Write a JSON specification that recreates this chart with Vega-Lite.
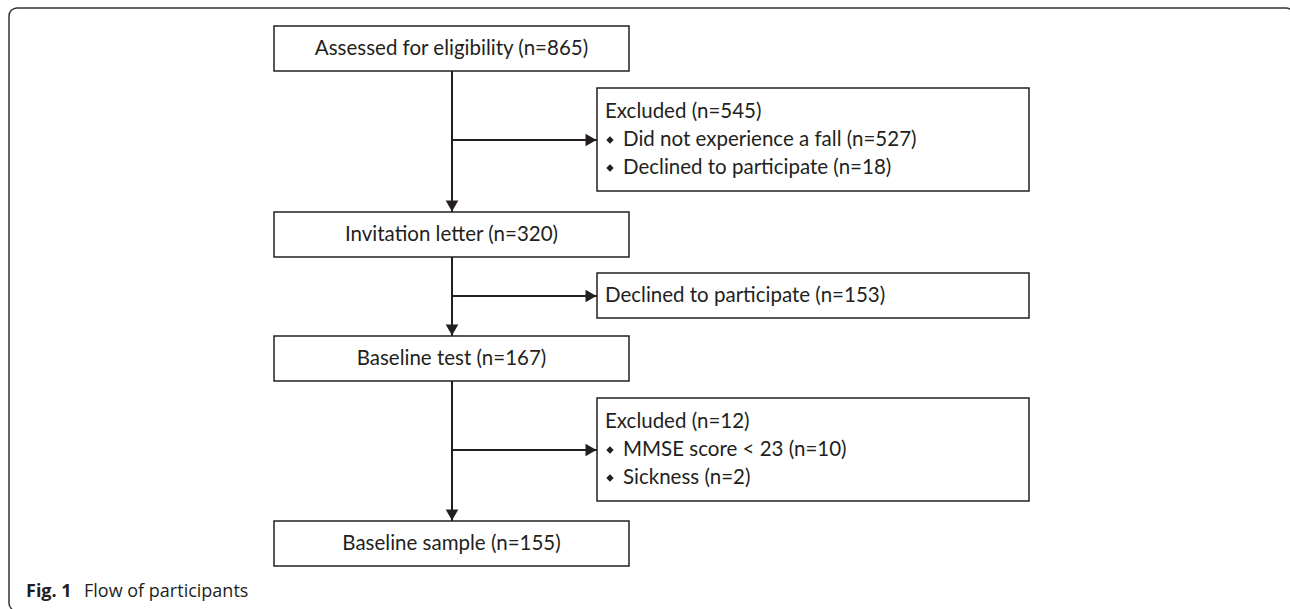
{
  "$schema": "https://vega.github.io/schema/vega-lite/v6.json",
  "width": 1290,
  "height": 609,
  "autosize": {"type": "fit", "contains": "padding"},
  "padding": 0,
  "background": "white",
  "config": {"view": {"stroke": null}},
  "datasets": {
    "frame": [{"x": 9, "x2": 1294, "y": 8, "y2": 611}],
    "boxes": [
      {"name": "assessed", "x": 274, "x2": 629, "y": 26, "y2": 71},
      {"name": "excluded1", "x": 597, "x2": 1029, "y": 88, "y2": 191},
      {"name": "invitation", "x": 274, "x2": 629, "y": 212, "y2": 257},
      {"name": "declined", "x": 597, "x2": 1029, "y": 273, "y2": 318},
      {"name": "baseline_test", "x": 274, "x2": 629, "y": 336, "y2": 381},
      {"name": "excluded2", "x": 597, "x2": 1029, "y": 398, "y2": 501},
      {"name": "baseline_sample", "x": 274, "x2": 629, "y": 521, "y2": 566}
    ],
    "lines": [
      {"x": 452, "x2": 452, "y": 71, "y2": 212},
      {"x": 452, "x2": 452, "y": 257, "y2": 336},
      {"x": 452, "x2": 452, "y": 381, "y2": 521},
      {"x": 452, "x2": 597, "y": 140, "y2": 140},
      {"x": 452, "x2": 597, "y": 296, "y2": 296},
      {"x": 452, "x2": 597, "y": 450, "y2": 450}
    ],
    "heads": [
      {"x": 452, "y": 212, "dir": "down"},
      {"x": 452, "y": 336, "dir": "down"},
      {"x": 452, "y": 521, "dir": "down"},
      {"x": 597, "y": 140, "dir": "right"},
      {"x": 597, "y": 296, "dir": "right"},
      {"x": 597, "y": 450, "dir": "right"}
    ],
    "centerLabels": [
      {"x": 451.5, "y": 48.5, "text": "Assessed for eligibility (n=865)"},
      {"x": 451.5, "y": 234.5, "text": "Invitation letter (n=320)"},
      {"x": 451.5, "y": 358.5, "text": "Baseline test (n=167)"},
      {"x": 451.5, "y": 543.5, "text": "Baseline sample (n=155)"}
    ],
    "leftLabels": [
      {"x": 605, "y": 112, "text": "Excluded (n=545)"},
      {"x": 623, "y": 140, "text": "Did not experience a fall (n=527)"},
      {"x": 623, "y": 168, "text": "Declined to participate (n=18)"},
      {"x": 605, "y": 296, "text": "Declined to participate (n=153)"},
      {"x": 605, "y": 422, "text": "Excluded (n=12)"},
      {"x": 623, "y": 450, "text": "MMSE score < 23 (n=10)"},
      {"x": 623, "y": 478, "text": "Sickness (n=2)"}
    ],
    "bullets": [
      {"x": 610, "y": 140},
      {"x": 610, "y": 168},
      {"x": 610, "y": 450},
      {"x": 610, "y": 478}
    ],
    "captionBold": [{"x": 26, "y": 592, "text": "Fig. 1"}],
    "captionRegular": [{"x": 84, "y": 592, "text": "Flow of participants"}]
  },
  "layer": [
    {
      "data": {"name": "frame"},
      "mark": {"type": "rect", "fill": null, "stroke": "#333333", "strokeWidth": 1.5, "cornerRadius": 8, "clip": true},
      "encoding": {
        "x": {"field": "x", "type": "quantitative", "scale": {"domain": [0, 1290], "nice": false, "zero": false}, "axis": null},
        "x2": {"field": "x2"},
        "y": {"field": "y", "type": "quantitative", "scale": {"domain": [0, 609], "reverse": true, "nice": false, "zero": false}, "axis": null},
        "y2": {"field": "y2"}
      }
    },
    {
      "data": {"name": "boxes"},
      "mark": {"type": "rect", "fill": "white", "stroke": "#231f20", "strokeWidth": 1.5},
      "encoding": {
        "x": {"field": "x", "type": "quantitative", "scale": {"domain": [0, 1290], "nice": false, "zero": false}, "axis": null},
        "x2": {"field": "x2"},
        "y": {"field": "y", "type": "quantitative", "scale": {"domain": [0, 609], "reverse": true, "nice": false, "zero": false}, "axis": null},
        "y2": {"field": "y2"}
      }
    },
    {
      "data": {"name": "lines"},
      "mark": {"type": "rule", "stroke": "#231f20", "strokeWidth": 2},
      "encoding": {
        "x": {"field": "x", "type": "quantitative", "scale": {"domain": [0, 1290], "nice": false, "zero": false}, "axis": null},
        "x2": {"field": "x2"},
        "y": {"field": "y", "type": "quantitative", "scale": {"domain": [0, 609], "reverse": true, "nice": false, "zero": false}, "axis": null},
        "y2": {"field": "y2"}
      }
    },
    {
      "data": {"name": "heads"},
      "transform": [{"filter": "datum.dir === 'down'"}],
      "mark": {"type": "point", "shape": "triangle-down", "filled": true, "color": "#231f20", "opacity": 1, "size": 160, "yOffset": -6},
      "encoding": {
        "x": {"field": "x", "type": "quantitative", "scale": {"domain": [0, 1290], "nice": false, "zero": false}, "axis": null},
        "y": {"field": "y", "type": "quantitative", "scale": {"domain": [0, 609], "reverse": true, "nice": false, "zero": false}, "axis": null}
      }
    },
    {
      "data": {"name": "heads"},
      "transform": [{"filter": "datum.dir === 'right'"}],
      "mark": {"type": "point", "shape": "triangle-right", "filled": true, "color": "#231f20", "opacity": 1, "size": 160, "xOffset": -6},
      "encoding": {
        "x": {"field": "x", "type": "quantitative", "scale": {"domain": [0, 1290], "nice": false, "zero": false}, "axis": null},
        "y": {"field": "y", "type": "quantitative", "scale": {"domain": [0, 609], "reverse": true, "nice": false, "zero": false}, "axis": null}
      }
    },
    {
      "data": {"name": "bullets"},
      "mark": {"type": "point", "shape": "diamond", "filled": true, "color": "#231f20", "opacity": 1, "size": 55},
      "encoding": {
        "x": {"field": "x", "type": "quantitative", "scale": {"domain": [0, 1290], "nice": false, "zero": false}, "axis": null},
        "y": {"field": "y", "type": "quantitative", "scale": {"domain": [0, 609], "reverse": true, "nice": false, "zero": false}, "axis": null}
      }
    },
    {
      "data": {"name": "centerLabels"},
      "mark": {"type": "text", "font": "Lato", "fontSize": 20.5, "color": "#231f20", "align": "center", "baseline": "middle"},
      "encoding": {
        "x": {"field": "x", "type": "quantitative", "scale": {"domain": [0, 1290], "nice": false, "zero": false}, "axis": null},
        "y": {"field": "y", "type": "quantitative", "scale": {"domain": [0, 609], "reverse": true, "nice": false, "zero": false}, "axis": null},
        "text": {"field": "text"}
      }
    },
    {
      "data": {"name": "leftLabels"},
      "mark": {"type": "text", "font": "Lato", "fontSize": 20.5, "color": "#231f20", "align": "left", "baseline": "middle"},
      "encoding": {
        "x": {"field": "x", "type": "quantitative", "scale": {"domain": [0, 1290], "nice": false, "zero": false}, "axis": null},
        "y": {"field": "y", "type": "quantitative", "scale": {"domain": [0, 609], "reverse": true, "nice": false, "zero": false}, "axis": null},
        "text": {"field": "text"}
      }
    },
    {
      "data": {"name": "captionBold"},
      "mark": {"type": "text", "font": "Open Sans", "fontSize": 18, "fontWeight": "bold", "color": "#231f20", "align": "left", "baseline": "middle"},
      "encoding": {
        "x": {"field": "x", "type": "quantitative", "scale": {"domain": [0, 1290], "nice": false, "zero": false}, "axis": null},
        "y": {"field": "y", "type": "quantitative", "scale": {"domain": [0, 609], "reverse": true, "nice": false, "zero": false}, "axis": null},
        "text": {"field": "text"}
      }
    },
    {
      "data": {"name": "captionRegular"},
      "mark": {"type": "text", "font": "Open Sans", "fontSize": 18, "color": "#231f20", "align": "left", "baseline": "middle"},
      "encoding": {
        "x": {"field": "x", "type": "quantitative", "scale": {"domain": [0, 1290], "nice": false, "zero": false}, "axis": null},
        "y": {"field": "y", "type": "quantitative", "scale": {"domain": [0, 609], "reverse": true, "nice": false, "zero": false}, "axis": null},
        "text": {"field": "text"}
      }
    }
  ]
}
